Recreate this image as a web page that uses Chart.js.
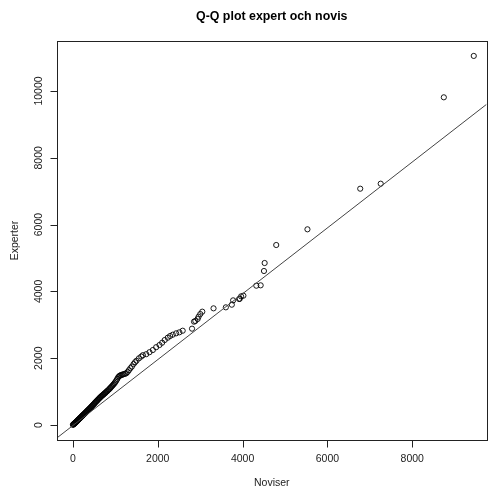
<!DOCTYPE html>
<html>
<head>
<meta charset="utf-8">
<title>Q-Q plot expert och novis</title>
<script src="https://cdn.jsdelivr.net/npm/chart.js@4"></script>
<style>
    html, body { margin: 0; padding: 0; background: #fff; overflow: hidden; }
    canvas { display: block; }
</style>
</head>
<body>
<canvas id="chart" width="490" height="488" style="width:490px;height:488px"></canvas>
<script>
// sorted sample quantiles, novices on x, experts on y
const noviser = [
    0, 8, 15, 22, 30, 38, 45, 52, 60, 68, 75, 84, 92, 100, 110, 118, 127, 135, 145, 154,
    163, 172, 182, 190, 200, 210, 220, 230, 240, 250, 262, 272, 283, 295, 305, 316, 328, 340, 350, 362,
    374, 385, 398, 410, 422, 435, 448, 460, 472, 485, 498, 510, 524, 538, 550, 563, 577, 590, 604, 618,
    632, 645, 660, 675, 690, 705, 720, 735, 750, 766, 782, 798, 815, 832, 850, 868, 886, 905, 925, 945,
    965, 985, 1005, 1025, 1045, 1065, 1085, 1105, 1125, 1150, 1175, 1200, 1230, 1260, 1290, 1320, 1355, 1390, 1430, 1465,
    1500, 1556, 1611, 1650, 1729, 1806, 1884, 1963, 2041, 2104, 2165, 2236, 2292, 2354, 2433, 2510, 2588, 2808, 2855, 2886,
    2940, 2963, 3003, 3050, 3315, 3605, 3746, 3777, 3918, 3934, 3965, 4019, 4324, 4426, 4504, 4520, 4793, 5529, 6773, 7256,
    8744, 9450
];
const experter = [
    5, 14, 22, 30, 38, 46, 55, 63, 72, 82, 90, 102, 112, 122, 135, 146, 158, 168, 180, 192,
    203, 214, 226, 236, 250, 262, 276, 288, 300, 312, 326, 338, 352, 368, 380, 394, 410, 425, 438, 452,
    468, 482, 498, 514, 530, 548, 565, 582, 598, 616, 632, 650, 670, 688, 705, 722, 740, 758, 776, 795,
    812, 830, 848, 865, 882, 898, 915, 932, 948, 966, 985, 1004, 1024, 1044, 1066, 1090, 1115, 1142, 1170, 1198,
    1228, 1260, 1295, 1335, 1378, 1425, 1455, 1475, 1490, 1500, 1512, 1522, 1535, 1550, 1590, 1640, 1700, 1750, 1825, 1880,
    1925, 1996, 2050, 2090, 2120, 2180, 2245, 2330, 2395, 2464, 2545, 2614, 2665, 2704, 2745, 2775, 2823, 2884, 3094, 3114,
    3174, 3243, 3323, 3393, 3493, 3523, 3602, 3732, 3772, 3781, 3852, 3872, 4171, 4182, 4611, 4850, 5389, 5859, 7075, 7225,
    9811, 11050
];

// reference line (qqline) end points at the plot edges
const lineX = [-375, 9750];
const lineY = [-385, 9600];

const xTicks = [0, 2000, 4000, 6000, 8000];
const yTicks = [0, 2000, 4000, 6000, 8000, 10000];

const titleText = 'Q-Q plot expert och novis';
const xTitle = 'Noviser';
const yTitle = 'Experter';

const points = noviser.map((x, i) => ({ x: x, y: experter[i] }));
const refLine = lineX.map((x, i) => ({ x: x, y: lineY[i] }));

// box, outward ticks and labels drawn the way base R graphics does it
const rAxes = {
    id: 'rAxes',
    afterDraw(chart) {
        const ctx = chart.ctx;
        const area = chart.chartArea;
        const xs = chart.scales.x;
        const ys = chart.scales.y;
        const tick = 7;
        ctx.save();
        ctx.strokeStyle = '#222';
        ctx.lineWidth = 1;
        ctx.strokeRect(Math.round(area.left) + 0.5, Math.round(area.top) + 0.5,
            Math.round(area.right - area.left), Math.round(area.bottom - area.top));

        ctx.fillStyle = '#222';
        ctx.font = '10.5px "Liberation Sans", Arial, sans-serif';

        // x axis
        ctx.textAlign = 'center';
        ctx.textBaseline = 'middle';
        const yb = Math.round(area.bottom) + 0.5;
        ctx.beginPath();
        ctx.moveTo(Math.round(xs.getPixelForValue(xTicks[0])) + 0.5, yb);
        ctx.lineTo(Math.round(xs.getPixelForValue(xTicks[xTicks.length - 1])) + 0.5, yb);
        xTicks.forEach(v => {
            const px = Math.round(xs.getPixelForValue(v)) + 0.5;
            ctx.moveTo(px, yb);
            ctx.lineTo(px, yb + tick);
        });
        ctx.stroke();
        xTicks.forEach(v => {
            ctx.fillText(String(v), xs.getPixelForValue(v), area.bottom + 19);
        });

        // y axis
        const xl = Math.round(area.left) + 0.5;
        ctx.beginPath();
        ctx.moveTo(xl, Math.round(ys.getPixelForValue(yTicks[0])) + 0.5);
        ctx.lineTo(xl, Math.round(ys.getPixelForValue(yTicks[yTicks.length - 1])) + 0.5);
        yTicks.forEach(v => {
            const py = Math.round(ys.getPixelForValue(v)) + 0.5;
            ctx.moveTo(xl, py);
            ctx.lineTo(xl - tick, py);
        });
        ctx.stroke();
        yTicks.forEach(v => {
            ctx.save();
            ctx.translate(area.left - 18, ys.getPixelForValue(v));
            ctx.rotate(-Math.PI / 2);
            ctx.fillText(String(v), 0, 0);
            ctx.restore();
        });

        // axis titles
        const cx = (area.left + area.right) / 2;
        ctx.fillText(xTitle, cx, area.bottom + 43);
        ctx.save();
        ctx.translate(15, (area.top + area.bottom) / 2);
        ctx.rotate(-Math.PI / 2);
        ctx.fillText(yTitle, 0, 0);
        ctx.restore();

        // main title
        ctx.font = 'bold 12.4px "Liberation Sans", Arial, sans-serif';
        ctx.fillStyle = '#000';
        ctx.fillText(titleText, cx, 17);
        ctx.restore();
    }
};

const ctx = document.getElementById('chart').getContext('2d');
const chart = new Chart(ctx, {
    type: 'scatter',
    data: {
        datasets: [{
            label: 'qqline',
            type: 'line',
            data: refLine,
            showLine: true,
            borderColor: '#444',
            borderWidth: 1,
            pointRadius: 0,
            fill: false
        }, {
            label: 'kvantiler',
            data: points,
            pointRadius: 2.6,
            pointHoverRadius: 2.6,
            borderWidth: 0.9,
            borderColor: '#000',
            backgroundColor: 'rgba(0,0,0,0)'
        }]
    },
    options: {
        responsive: false,
        animation: false,
        devicePixelRatio: 1,
        layout: { padding: { left: 57, top: 41, right: 1, bottom: 48 } },
        plugins: {
            legend: { display: false },
            tooltip: { enabled: false },
            title: { display: false }
        },
        scales: {
            x: { type: 'linear', min: -375, max: 9750, display: false },
            y: { type: 'linear', min: -449, max: 11497, display: false }
        }
    },
    plugins: [rAxes]
});
</script>
</body>
</html>
